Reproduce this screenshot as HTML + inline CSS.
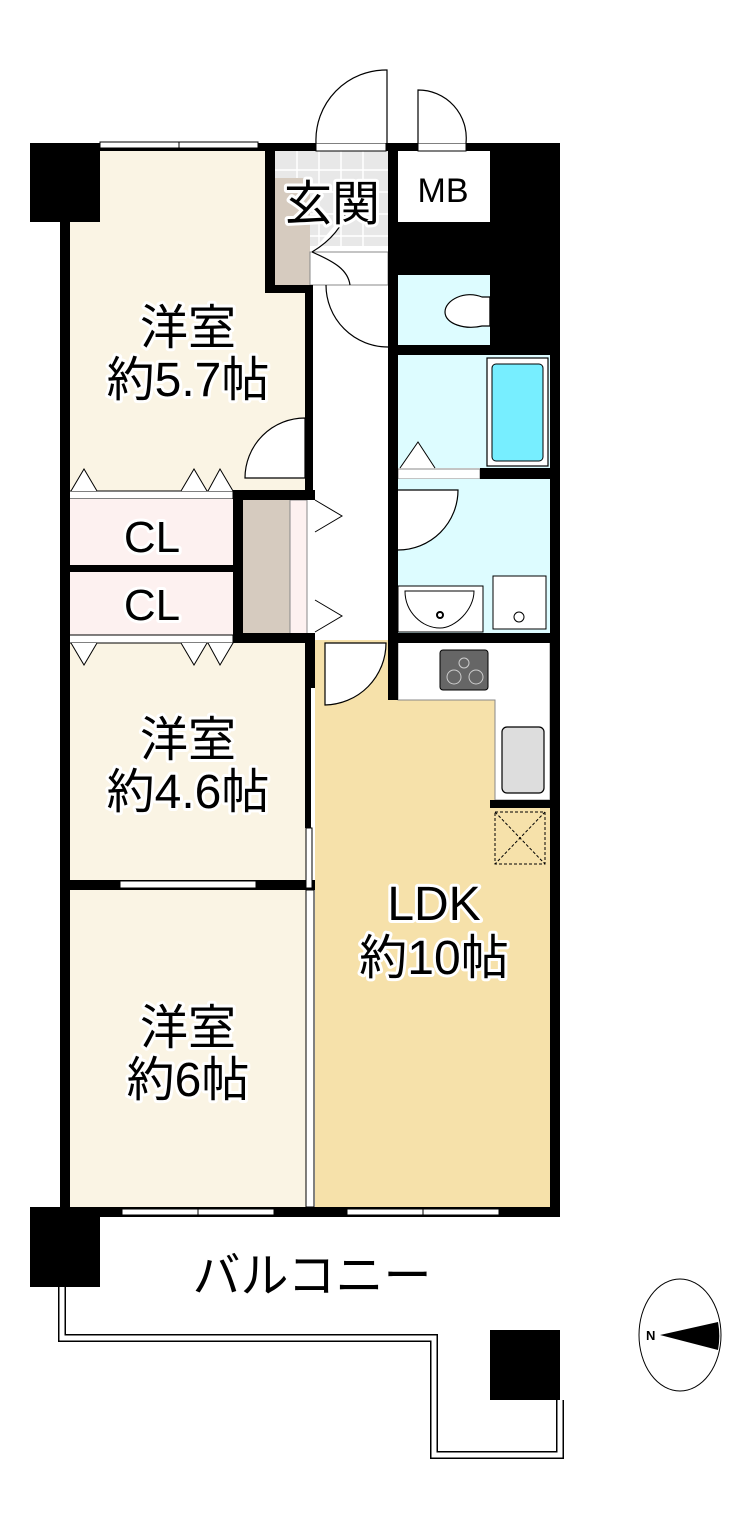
<!DOCTYPE html>
<html><head><meta charset="utf-8"><style>
html,body{margin:0;padding:0;background:#fff;}
svg{display:block}
text{font-family:"Liberation Sans","Noto Sans CJK JP",sans-serif;fill:#000;paint-order:stroke;stroke:#fff;stroke-width:6px;stroke-linejoin:round}
</style></head><body>
<svg width="755" height="1528" viewBox="0 0 755 1528" xmlns="http://www.w3.org/2000/svg">
<rect x="69" y="150" width="240" height="341" fill="#faf4e4"/>
<rect x="69" y="643" width="240" height="240" fill="#faf4e4"/>
<rect x="69" y="890" width="240" height="318" fill="#faf4e4"/>
<rect x="315" y="640" width="236" height="568" fill="#f6e1aa"/>
<path d="M398 642 H550 V800 H495 V700 H398 Z" fill="#fff" stroke="#888" stroke-width="1"/>
<rect x="312" y="285" width="76" height="352" fill="#fff"/>
<rect x="275" y="150" width="113" height="96" fill="#e8e8e8"/>
<g stroke="#fff" stroke-width="1.5">
<line x1="275" y1="170" x2="388" y2="170"/><line x1="275" y1="192" x2="388" y2="192"/><line x1="275" y1="214" x2="388" y2="214"/><line x1="275" y1="236" x2="388" y2="236"/>
<line x1="297" y1="150" x2="297" y2="246"/><line x1="319" y1="150" x2="319" y2="246"/><line x1="341" y1="150" x2="341" y2="246"/><line x1="363" y1="150" x2="363" y2="246"/>
</g>
<rect x="275" y="178" width="35" height="107" fill="#d6cbbf"/>
<rect x="310" y="252" width="78" height="33" fill="#fff" stroke="#888" stroke-width="1"/>
<rect x="398" y="152" width="92" height="70" fill="#fff"/>
<rect x="398" y="275" width="92" height="70" fill="#ddfcff"/>
<rect x="490" y="275" width="20" height="70" fill="#fff"/>
<path d="M490 297 H482 C465 290 445 300 445 312 C445 324 465 330 482 326 H490 Z" fill="#fff" stroke="#000" stroke-width="1.2"/>
<rect x="490" y="297" width="20" height="29" fill="#fff" stroke="#000" stroke-width="1.2"/>
<rect x="398" y="355" width="152" height="113" fill="#ddfcff"/>
<rect x="487" y="358" width="61" height="108" fill="#fff" stroke="#000" stroke-width="1.2"/>
<rect x="492" y="364" width="51" height="97" rx="4" fill="#77eeff" stroke="#000" stroke-width="1"/>
<rect x="398" y="469" width="82" height="10" fill="#fff" stroke="#888" stroke-width="1"/>
<path d="M400 468 L418 442 L435 468" fill="#fff" stroke="#000" stroke-width="1"/>
<rect x="398" y="479" width="152" height="155" fill="#ddfcff"/>
<rect x="398" y="586" width="85" height="46" fill="#fff" stroke="#000" stroke-width="1"/>
<path d="M405 591 H474 C474 610 455 628 440 628 C422 628 405 612 405 591 Z" fill="#fff" stroke="#000" stroke-width="1"/>
<circle cx="440" cy="615" r="3" fill="#fff" stroke="#000" stroke-width="2"/>
<rect x="493" y="576" width="53" height="53" fill="#fff" stroke="#000" stroke-width="1"/>
<circle cx="519" cy="617" r="5" fill="#fff" stroke="#000" stroke-width="1"/>
<rect x="69" y="491" width="164" height="8" fill="#fff" stroke="#000" stroke-width="1"/>
<rect x="69" y="499" width="164" height="66" fill="#fdf1f0"/>
<rect x="69" y="572" width="164" height="63" fill="#fdf1f0"/>
<rect x="69" y="635" width="164" height="8" fill="#fff" stroke="#000" stroke-width="1"/>
<g fill="#fff" stroke="#000" stroke-width="1">
<path d="M71 491 L84 469 L97 491"/><path d="M181 491 L194 469 L207 491"/><path d="M208 491 L220 469 L233 491"/>
<path d="M71 643 L84 665 L97 643"/><path d="M181 643 L194 665 L207 643"/><path d="M208 643 L220 665 L233 643"/>
</g>
<rect x="243" y="500" width="47" height="135" fill="#d6cbbf"/>
<rect x="290" y="500" width="17" height="135" fill="#fdf1f0" stroke="#888" stroke-width="1"/>
<g fill="#fff" stroke="#000" stroke-width="1">
<path d="M315 500 L342 516 L315 532"/><path d="M315 600 L342 616 L315 632"/>
</g>
<rect x="100" y="1217" width="450" height="73" fill="#fff"/>
<path d="M62 1287 V1338 H434 V1455 H560 V1400" fill="none" stroke="#000" stroke-width="8"/>
<path d="M62 1287 V1338 H434 V1455 H560 V1400" fill="none" stroke="#fff" stroke-width="5"/>
<g fill="#000">
<rect x="30" y="143" width="70" height="79"/>
<rect x="60" y="143" width="10" height="1072"/>
<rect x="30" y="143" width="530" height="8"/>
<rect x="490" y="143" width="70" height="207"/>
<rect x="388" y="143" width="10" height="207"/>
<rect x="388" y="222" width="172" height="53"/>
<rect x="265" y="150" width="10" height="142"/>
<rect x="265" y="285" width="47" height="8"/>
<rect x="305" y="285" width="8" height="205"/>
<rect x="388" y="345" width="172" height="10"/>
<rect x="550" y="143" width="10" height="1072"/>
<rect x="480" y="468" width="80" height="11"/>
<rect x="388" y="350" width="10" height="350"/>
<rect x="388" y="633" width="172" height="10"/>
<rect x="233" y="490" width="82" height="10"/>
<rect x="233" y="490" width="10" height="153"/>
<rect x="60" y="565" width="183" height="7"/>
<rect x="233" y="633" width="82" height="10"/>
<rect x="305" y="633" width="10" height="55"/>
<rect x="305" y="688" width="6" height="140"/>
<rect x="490" y="800" width="70" height="8"/>
<rect x="60" y="880" width="255" height="10"/>
<rect x="30" y="1207" width="530" height="10"/>
<rect x="30" y="1207" width="70" height="80"/>
<rect x="490" y="1330" width="70" height="70"/>
</g>
<g fill="#fff" stroke="#000" stroke-width="1">
<rect x="100" y="142" width="158" height="6"/><line x1="179" y1="142" x2="179" y2="148"/>
<rect x="120" y="881" width="136" height="7"/>
<rect x="122" y="1209" width="152" height="6"/><line x1="198" y1="1209" x2="198" y2="1215"/>
<rect x="347" y="1209" width="152" height="6"/><line x1="423" y1="1209" x2="423" y2="1215"/>
<rect x="316" y="143" width="70" height="8"/><rect x="418" y="143" width="48" height="8"/>
<rect x="306" y="890" width="8" height="317"/>
<rect x="306" y="828" width="6" height="60"/>
</g>
<g fill="#fff" stroke="#000" stroke-width="1.2">
<path d="M387 143 V70 A70 70 0 0 0 316 143"/>
<path d="M418 143 V90 A48 48 0 0 1 466 143"/>
<path d="M312 252 C332 240 343 225 346 212 M312 252 C335 262 348 270 350 285"/>
<path d="M326 285 A62 62 0 0 0 388 347"/>
<path d="M305 418 A60 60 0 0 0 245 478 H305 Z"/>
<path d="M398 490 H458 A60 60 0 0 1 398 550"/>
<path d="M325 643 H386 A62 62 0 0 1 325 705 Z"/>
</g>
<rect x="440" y="650" width="48" height="40" rx="3" fill="#666" stroke="#000" stroke-width="1"/>
<g fill="none" stroke="#ccc" stroke-width="1"><circle cx="454" cy="677" r="7"/><circle cx="476" cy="677" r="7"/><circle cx="464" cy="663" r="5"/></g>
<rect x="502" y="727" width="42" height="66" rx="5" fill="#ddd" stroke="#000" stroke-width="1.2"/>
<g fill="none" stroke="#000" stroke-width="1" stroke-dasharray="3,2">
<rect x="495" y="812" width="50" height="52"/><line x1="495" y1="812" x2="545" y2="864"/><line x1="545" y1="812" x2="495" y2="864"/>
</g>
<ellipse cx="680" cy="1335" rx="41" ry="56" fill="#fff" stroke="#000" stroke-width="1"/>
<path d="M660 1335 L718 1322 A41 56 0 0 1 718 1350 Z" fill="#000"/>
<text x="646" y="1340" font-size="13" font-weight="bold" style="stroke-width:0">N</text>
<text x="188" y="344" font-size="48" text-anchor="middle">洋室</text>
<text x="188" y="396" font-size="48" text-anchor="middle">約5.7帖</text>
<text x="332" y="220" font-size="48" text-anchor="middle">玄関</text>
<text x="443" y="202" font-size="34" text-anchor="middle" style="stroke-width:0">MB</text>
<text x="152" y="552" font-size="44" text-anchor="middle">CL</text>
<text x="152" y="620" font-size="44" text-anchor="middle">CL</text>
<text x="188" y="756" font-size="48" text-anchor="middle">洋室</text>
<text x="188" y="808" font-size="48" text-anchor="middle">約4.6帖</text>
<text x="434" y="920" font-size="48" text-anchor="middle">LDK</text>
<text x="434" y="974" font-size="48" text-anchor="middle">約10帖</text>
<text x="188" y="1044" font-size="48" text-anchor="middle">洋室</text>
<text x="188" y="1096" font-size="48" text-anchor="middle">約6帖</text>
<text x="312" y="1292" font-size="48" text-anchor="middle">バルコニー</text>
</svg>
</body></html>
